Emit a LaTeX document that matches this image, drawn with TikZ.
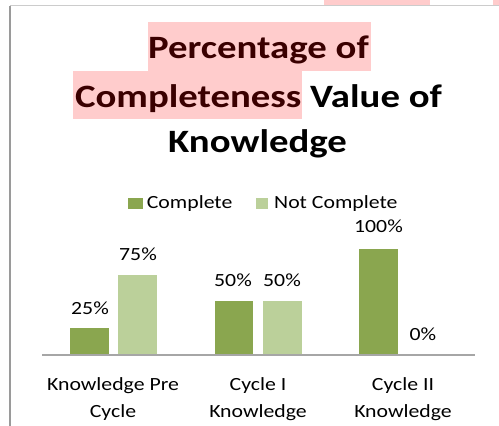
\documentclass[tikz,border=0pt]{standalone}
\usepackage{fontspec}
\setmainfont{Carlito}
\definecolor{darkg}{HTML}{8AA64F}
\definecolor{lightg}{HTML}{BBD09A}
\definecolor{hl}{HTML}{FFCCCC}
\definecolor{maroon}{HTML}{3A0000}
\definecolor{axisgray}{HTML}{A6A6A6}
\definecolor{framegray}{HTML}{9A9A9A}
\newcommand{\widettl}[1]{\scalebox{1.19}[1]{#1}}
\newcommand{\widelbl}[1]{\scalebox{1.17}[1]{#1}}
\begin{document}
\begin{tikzpicture}[x=1pt,y=-1pt,
  barbox/.style={draw=none, inner sep=0, minimum width=38.5, anchor=south},
  lbl/.style={font=\fontsize{18.6}{27}\selectfont, inner sep=0, anchor=base},
  ttl/.style={font=\fontsize{32.6}{40}\selectfont\bfseries, inner sep=0, anchor=base}]
\useasboundingbox (0,0) rectangle (499,426);
\fill[white] (0,0) rectangle (499,426);
% top remnants
\fill[hl] (324,0) rectangle (430,4.5);
\fill[hl] (493,0) rectangle (499,4.5);
\coordinate (fTL) at (10,5.5);
\coordinate (fTR) at (499,5.5);
\coordinate (fBL) at (10,426);
\draw[gray!40, line width=1] (fTL) -- (fTR);
\draw[framegray, line width=1.5] (fTL) -- (fBL);
% title highlights
\fill[hl] (148,22) rectangle (371,70.7);
\fill[hl] (73,70.7) rectangle (302,119);
\node[ttl, text=maroon] (t1) at (258.5,58.3) {\widettl{Percentage of}};
\node[ttl] (t2) at (258.5,107) {\widettl{\textcolor{maroon}{Completeness} Value of}};
\node[ttl] (t3) at (257.5,152.7) {\widettl{Knowledge}};
% legend
\node[fill=darkg, minimum width=15, minimum height=11, inner sep=0] (lg1) at (135.3,203) {};
\node[lbl, anchor=base west] (lt1) at (146.7,208.3) {\widelbl{Complete}};
\node[fill=lightg, minimum width=12.5, minimum height=11, inner sep=0] (lg2) at (262.2,203) {};
\node[lbl, anchor=base west] (lt2) at (274,208.3) {\widelbl{Not Complete}};
% bars
\node[barbox, fill=darkg, minimum height=26] (b1) at (89.7,354) {};
\node[barbox, fill=lightg, minimum height=79] (b2) at (137.7,354) {};
\node[barbox, fill=darkg, minimum height=52.5] (b3) at (234,354) {};
\node[barbox, fill=lightg, minimum height=52.5] (b4) at (282.5,354) {};
\node[barbox, fill=darkg, minimum height=105] (b5) at (378.5,354) {};
\coordinate (b6) at (426.5,354);
% axis
\coordinate (axL) at (42,355);
\coordinate (axR) at (475,355);
\draw[axisgray, line width=1.5] (axL) -- (axR);
% value labels
\node[lbl] (v1) at (90,314) {\widelbl{25\%}};
\node[lbl] (v2) at (138,260.3) {\widelbl{75\%}};
\node[lbl] (v3) at (233,286.5) {\widelbl{50\%}};
\node[lbl] (v4) at (282,286.5) {\widelbl{50\%}};
\node[lbl] (v5) at (378.5,232.7) {\widelbl{100\%}};
\node[lbl] (v6) at (423,340) {\widelbl{0\%}};
% category labels
\node[lbl] (c1a) at (113,390) {\widelbl{Knowledge Pre}};
\node[lbl] (c1b) at (113,417) {\widelbl{Cycle}};
\node[lbl] (c2a) at (258,390) {\widelbl{Cycle I}};
\node[lbl] (c2b) at (258,417) {\widelbl{Knowledge}};
\node[lbl] (c3a) at (403,390) {\widelbl{Cycle II}};
\node[lbl] (c3b) at (403,417) {\widelbl{Knowledge}};
\end{tikzpicture}
\end{document}
